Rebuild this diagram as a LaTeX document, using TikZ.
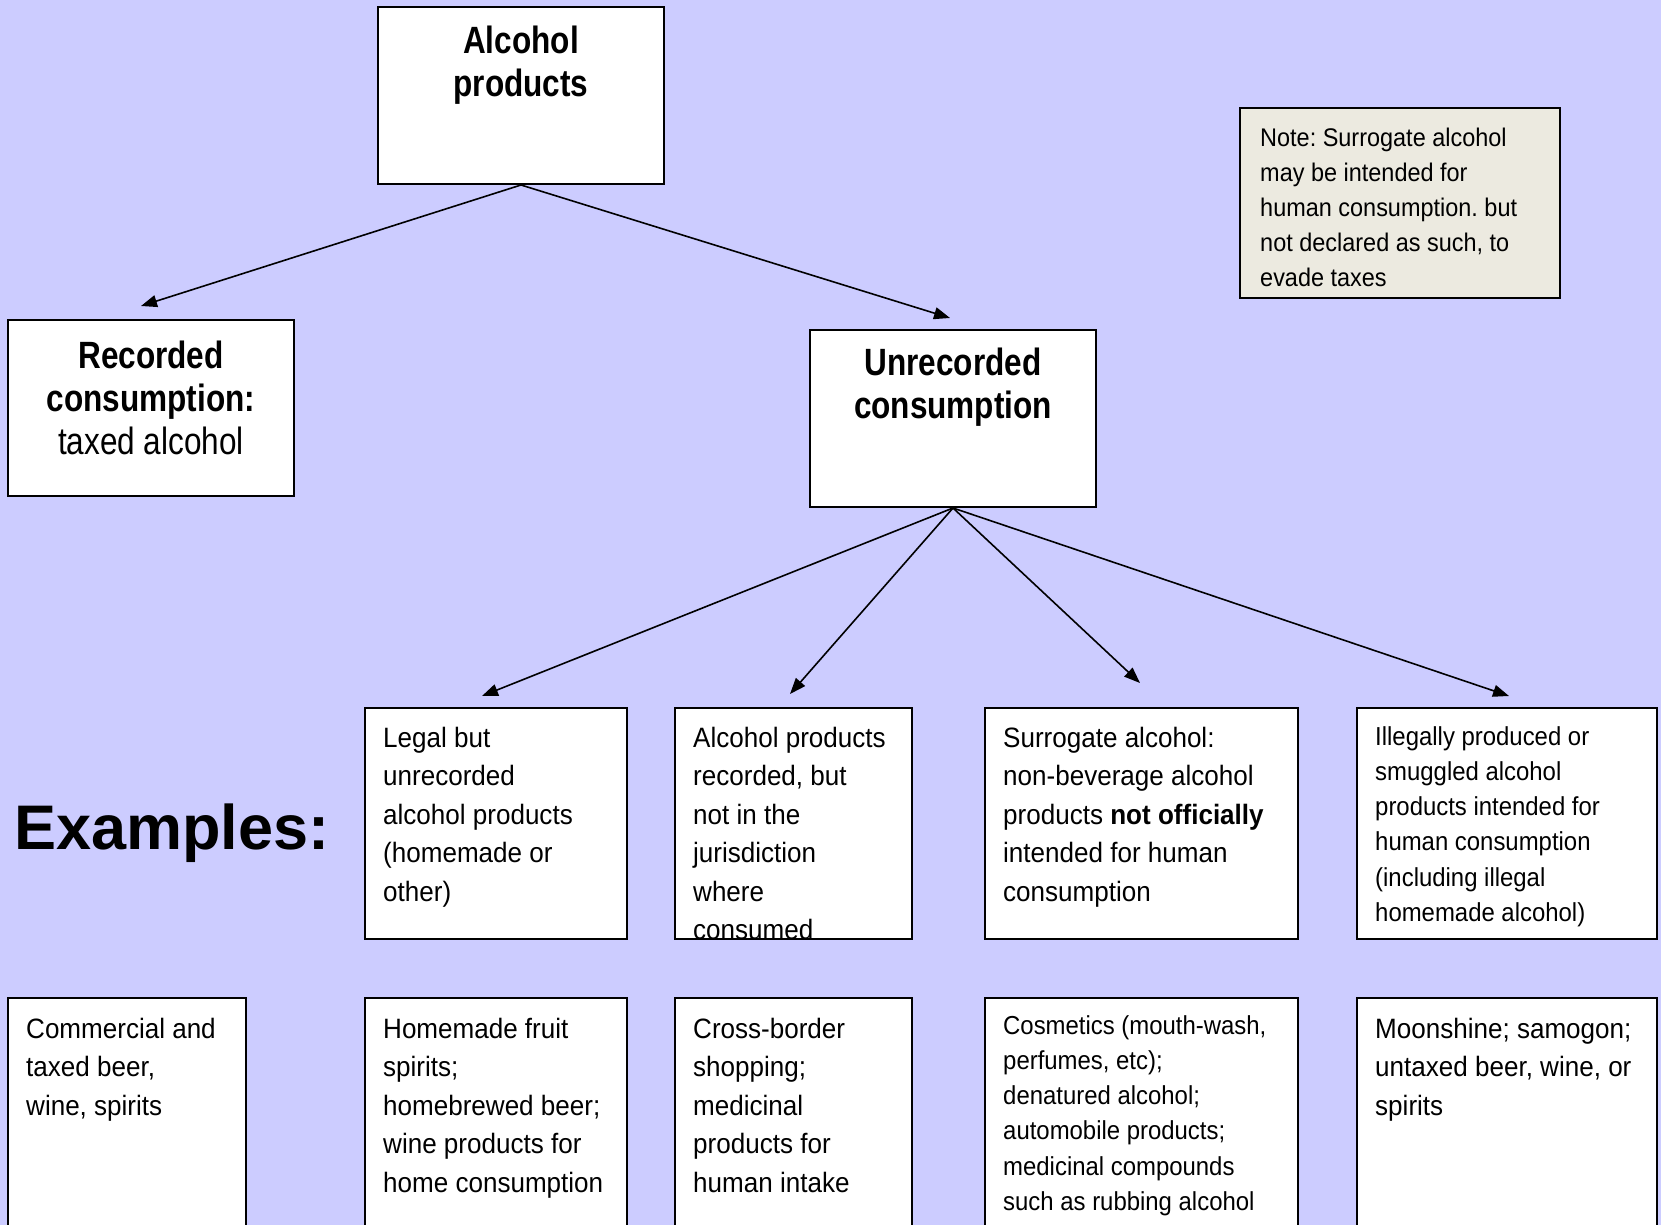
\documentclass[tikz,border=0pt]{standalone}
\usepackage{fontspec}
\setmainfont{Liberation Sans}
\newfontfamily\hdfam{Liberation Sans}[FakeStretch=0.83]
\newfontfamily\bdfam{Liberation Sans}[FakeStretch=0.93]
\newfontfamily\smfam{Liberation Sans}[FakeStretch=0.92]
\usetikzlibrary{arrows.meta}
\definecolor{bgcol}{RGB}{204,204,255}
\definecolor{notefill}{RGB}{236,234,224}
\frenchspacing
\tikzset{
  boxnode/.style={draw=black, line width=2pt, fill=white, anchor=north west, inner sep=0pt},
  notebox/.style={boxnode, fill=notefill},
  titletxt/.style={anchor=north, inner sep=0pt, align=center, font=\hdfam\fontsize{38}{43}\selectfont},
  bodytxt/.style={anchor=north west, inner sep=0pt, align=left, font=\bdfam\fontsize{28}{38.5}\selectfont},
  smalltxt/.style={anchor=north west, inner sep=0pt, align=left, font=\smfam\fontsize{26}{35.2}\selectfont},
  conn/.style={line width=1.6pt, -{Triangle[length=16pt,width=12pt]}}
}
\newcommand{\fst}{\rule{0pt}{25pt}}
\newcommand{\fsth}{\rule{0pt}{32pt}}
\begin{document}
\begin{tikzpicture}[x=1pt,y=-1pt]
\useasboundingbox (0,0) rectangle (1661,1225);
\fill[bgcol] (0,0) rectangle (1661,1225);

% top level
\node[boxnode, minimum width=286pt, minimum height=177pt] (alc) at (377,6) {};
\node[titletxt, yshift=-15pt] (alcT) at (alc.north) {\fsth\bfseries Alcohol\\\bfseries products};

\node[boxnode, minimum width=286pt, minimum height=176pt] (rec) at (7,319) {};
\node[titletxt, yshift=-17pt] (recT) at (rec.north) {\fsth\textbf{Recorded}\\\textbf{consumption:}\\taxed alcohol};

\node[boxnode, minimum width=286pt, minimum height=177pt] (unr) at (809,329) {};
\node[titletxt, yshift=-14pt] (unrT) at (unr.north) {\fsth\bfseries Unrecorded\\\bfseries consumption};

\node[notebox, minimum width=320pt, minimum height=190pt] (note) at (1239,107) {};
\node[smalltxt, font=\smfam\fontsize{25.5}{35}\selectfont, xshift=21pt, yshift=-14pt] (noteT) at (note.north west)
  {\fst Note: Surrogate alcohol\\may be intended for\\human consumption. but\\not declared as such, to\\evade taxes};

% second row
\node[boxnode, minimum width=262pt, minimum height=231pt] (legal) at (364,707) {};
\node[bodytxt, xshift=19pt, yshift=-15pt] (legalT) at (legal.north west)
  {\fst Legal but\\unrecorded\\alcohol products\\(homemade or\\other)};

\node[boxnode, minimum width=237pt, minimum height=231pt] (juris) at (674,707) {};
\node[bodytxt, xshift=19pt, yshift=-15pt] (jurisT) at (juris.north west)
  {\fst Alcohol products\\recorded, but\\not in the\\jurisdiction\\where\\consumed};

\node[boxnode, minimum width=313pt, minimum height=231pt] (surr) at (984,707) {};
\node[bodytxt, xshift=19pt, yshift=-15pt] (surrT) at (surr.north west)
  {\fst Surrogate alcohol:\\non-beverage alcohol\\products \textbf{not officially}\\intended for human\\consumption};

\node[boxnode, minimum width=300pt, minimum height=231pt] (illeg) at (1356,707) {};
\node[smalltxt, xshift=19pt, yshift=-13pt] (illegT) at (illeg.north west)
  {\fst Illegally produced or\\smuggled alcohol\\products intended for\\human consumption\\(including illegal\\homemade alcohol)};

% examples label
\node[anchor=base west, inner sep=0pt, font=\fontsize{63}{70}\selectfont\bfseries] (ex) at (14,849) {Examples:};

% third row
\node[boxnode, minimum width=238pt, minimum height=260pt] (comm) at (7,997) {};
\node[bodytxt, xshift=19pt, yshift=-16pt] (commT) at (comm.north west)
  {\fst Commercial and\\taxed beer,\\wine, spirits};

\node[boxnode, minimum width=262pt, minimum height=260pt] (home) at (364,997) {};
\node[bodytxt, xshift=19pt, yshift=-16pt] (homeT) at (home.north west)
  {\fst Homemade fruit\\spirits;\\homebrewed beer;\\wine products for\\home consumption};

\node[boxnode, minimum width=237pt, minimum height=260pt] (cross) at (674,997) {};
\node[bodytxt, xshift=19pt, yshift=-16pt] (crossT) at (cross.north west)
  {\fst Cross-border\\shopping;\\medicinal\\products for\\human intake};

\node[boxnode, minimum width=313pt, minimum height=260pt] (cosm) at (984,997) {};
\node[smalltxt, xshift=19pt, yshift=-12pt] (cosmT) at (cosm.north west)
  {\fst Cosmetics (mouth-wash,\\perfumes, etc);\\denatured alcohol;\\automobile products;\\medicinal compounds\\such as rubbing alcohol};

\node[boxnode, minimum width=300pt, minimum height=260pt] (moon) at (1356,997) {};
\node[bodytxt, xshift=19pt, yshift=-16pt] (moonT) at (moon.north west)
  {\fst Moonshine; samogon;\\untaxed beer, wine, or\\spirits};

% arrow tips
\coordinate (tipRec) at (141,306);
\coordinate (tipUnr) at (950,318);
\coordinate (tipLegal) at (482,696);
\coordinate (tipJuris) at (790,694);
\coordinate (tipSurr) at (1140,683);
\coordinate (tipIlleg) at (1509,696);

\draw[conn] (alc.south) -- (tipRec);
\draw[conn] (alc.south) -- (tipUnr);
\draw[conn] (unr.south) -- (tipLegal);
\draw[conn] (unr.south) -- (tipJuris);
\draw[conn] (unr.south) -- (tipSurr);
\draw[conn] (unr.south) -- (tipIlleg);
\end{tikzpicture}
\end{document}
